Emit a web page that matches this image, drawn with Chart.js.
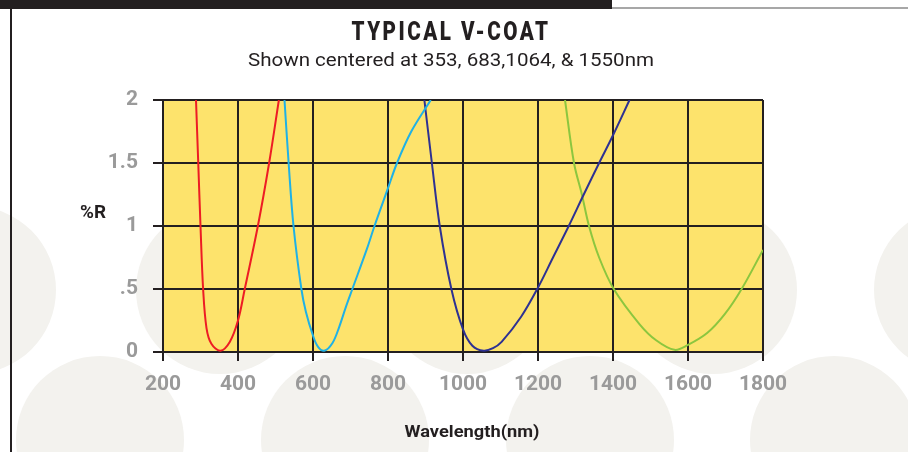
<!DOCTYPE html>
<html>
<head>
<meta charset="utf-8">
<script src="https://cdn.jsdelivr.net/npm/chart.js@4.4.1/dist/chart.umd.min.js"></script>
<style>
  html, body { margin: 0; padding: 0; background: #fff; }
  #wrap { width: 908px; height: 452px; }
</style>
</head>
<body>
<div id="wrap"><canvas id="vcoat" width="908" height="452"></canvas></div>
<script>
// axis ticks
const xTicks = [200, 400, 600, 800, 1000, 1200, 1400, 1600, 1800];
const yTicks = [0, 0.5, 1, 1.5, 2];
const yTickLabels = ['0', '.5', '1', '1.5', '2'];

// V-coat curves (wavelength nm, %R)
const wl353 = [288, 294, 300, 307, 316, 329, 353, 378, 400, 418, 453, 483, 509];
const r353  = [2, 1.5, 1, 0.5, 0.19, 0.065, 0.01, 0.08, 0.25, 0.5, 1, 1.5, 2];

const wl683 = [524, 535, 548, 569, 581, 600, 613, 630, 652, 670, 688, 705, 744, 764, 800, 824, 862, 914];
const r683  = [2, 1.5, 1, 0.5, 0.32, 0.13, 0.043, 0.01, 0.072, 0.2, 0.36, 0.5, 0.82, 1, 1.3, 1.5, 1.75, 2];

const wl1064 = [897, 917, 938, 969, 1000, 1025, 1055, 1080, 1103, 1155, 1198, 1240, 1282, 1322, 1363, 1400, 1444];
const r1064  = [2, 1.5, 1, 0.5, 0.18, 0.05, 0.01, 0.03, 0.08, 0.28, 0.5, 0.75, 1, 1.25, 1.5, 1.72, 2];

const wl1550 = [1272, 1296, 1317, 1336, 1363, 1402, 1471, 1515, 1564, 1600, 1651, 1698, 1743, 1800];
const r1550  = [2, 1.5, 1.25, 1, 0.75, 0.5, 0.22, 0.093, 0.017, 0.056, 0.15, 0.3, 0.5, 0.81];

const INK = '#231f20';

function pts(xs, ys) {
    return xs.map((x, i) => ({ x: x, y: ys[i] }));
}

function curve(label, xs, ys, color) {
    return {
        label: label,
        data: pts(xs, ys),
        borderColor: color,
        backgroundColor: color,
        borderWidth: 2,
        pointRadius: 0,
        showLine: true,
        tension: 0.35
    };
}

// draw text squeezed/stretched to a given width (reference font is condensed)
function fitText(ctx, text, x, y, font, width, color, spacing) {
    ctx.save();
    ctx.font = font;
    ctx.fillStyle = color;
    ctx.textAlign = 'center';
    ctx.textBaseline = 'alphabetic';
    if (spacing) ctx.letterSpacing = spacing;
    const w = ctx.measureText(text).width;
    ctx.translate(x, y);
    ctx.scale(width / w, 1);
    ctx.fillText(text, 0, 0);
    ctx.restore();
}

// page background: dots, top bar, left rule, yellow plot
const backdrop = {
    id: 'backdrop',
    beforeDraw(chart) {
        const ctx = chart.ctx;
        const area = chart.chartArea;
        ctx.save();
        ctx.fillStyle = '#fff';
        ctx.fillRect(0, 0, chart.width, chart.height);

        ctx.fillStyle = '#f3f2ee';
        [-28, 220, 467, 713, 958].forEach(cx => {
            ctx.beginPath(); ctx.arc(cx, 290, 84, 0, Math.PI * 2); ctx.fill();
        });
        [100, 345, 590, 834].forEach(cx => {
            ctx.beginPath(); ctx.arc(cx, 440, 84, 0, Math.PI * 2); ctx.fill();
        });

        ctx.fillStyle = INK;
        ctx.fillRect(0, 0, 612, 9);
        ctx.strokeStyle = '#8a8a8a';
        ctx.lineWidth = 1.5;
        ctx.beginPath(); ctx.moveTo(612, 8); ctx.lineTo(908, 8); ctx.stroke();
        ctx.strokeStyle = INK;
        ctx.lineWidth = 2;
        ctx.beginPath(); ctx.moveTo(11, 9); ctx.lineTo(11, 452); ctx.stroke();

        ctx.fillStyle = '#fde36c';
        ctx.fillRect(area.left, area.top, area.right - area.left, area.bottom - area.top);
        ctx.restore();
    }
};

const labels = {
    id: 'labels',
    afterDraw(chart) {
        const ctx = chart.ctx;
        fitText(ctx, 'TYPICAL V-COAT', 451, 39.5, '900 25px Roboto', 199, INK, '3px');
        fitText(ctx, 'Shown centered at 353, 683,1064, & 1550nm', 451, 65.5, '19px Roboto', 406, INK);
        fitText(ctx, '%R', 93, 218, 'bold 19px Roboto', 26, INK);
        fitText(ctx, 'Wavelength(nm)', 472, 437, 'bold 17px Roboto', 135, INK);
    }
};

new Chart(document.getElementById('vcoat'), {
    type: 'scatter',
    data: {
        datasets: [
            curve('353 nm', wl353, r353, '#ed1c24'),
            curve('683 nm', wl683, r683, '#1fb1e6'),
            curve('1064 nm', wl1064, r1064, '#2e3192'),
            curve('1550 nm', wl1550, r1550, '#8cc63f')
        ]
    },
    options: {
        responsive: false,
        animation: false,
        layout: { padding: { top: 100, right: 145, bottom: 0, left: 0 } },
        plugins: {
            legend: { display: false },
            tooltip: { enabled: false }
        },
        scales: {
            x: {
                type: 'linear',
                min: 200,
                max: 1800,
                afterBuildTicks: s => { s.ticks = xTicks.map(v => ({ value: v })); },
                afterFit: s => { s.height = 100; },
                grid: { color: INK, lineWidth: 2, tickLength: 9 },
                border: { color: INK, width: 2 },
                ticks: {
                    color: '#9a9a9a',
                    padding: 11,
                    maxRotation: 0,
                    font: { family: 'Roboto', size: 21, weight: 'bold' },
                    callback: value => String(value)
                }
            },
            y: {
                min: 0,
                max: 2,
                afterBuildTicks: s => { s.ticks = yTicks.map(v => ({ value: v })); },
                afterFit: s => { s.width = 163; },
                grid: { color: INK, lineWidth: 2, tickLength: 10 },
                border: { color: INK, width: 2 },
                ticks: {
                    color: '#9a9a9a',
                    padding: 15,
                    font: { family: 'Roboto', size: 21, weight: 'bold' },
                    callback: function(value) {
                        const i = yTicks.indexOf(value);
                        return i >= 0 ? yTickLabels[i] : '';
                    }
                }
            }
        }
    },
    plugins: [backdrop, labels]
});
</script>
</body>
</html>
